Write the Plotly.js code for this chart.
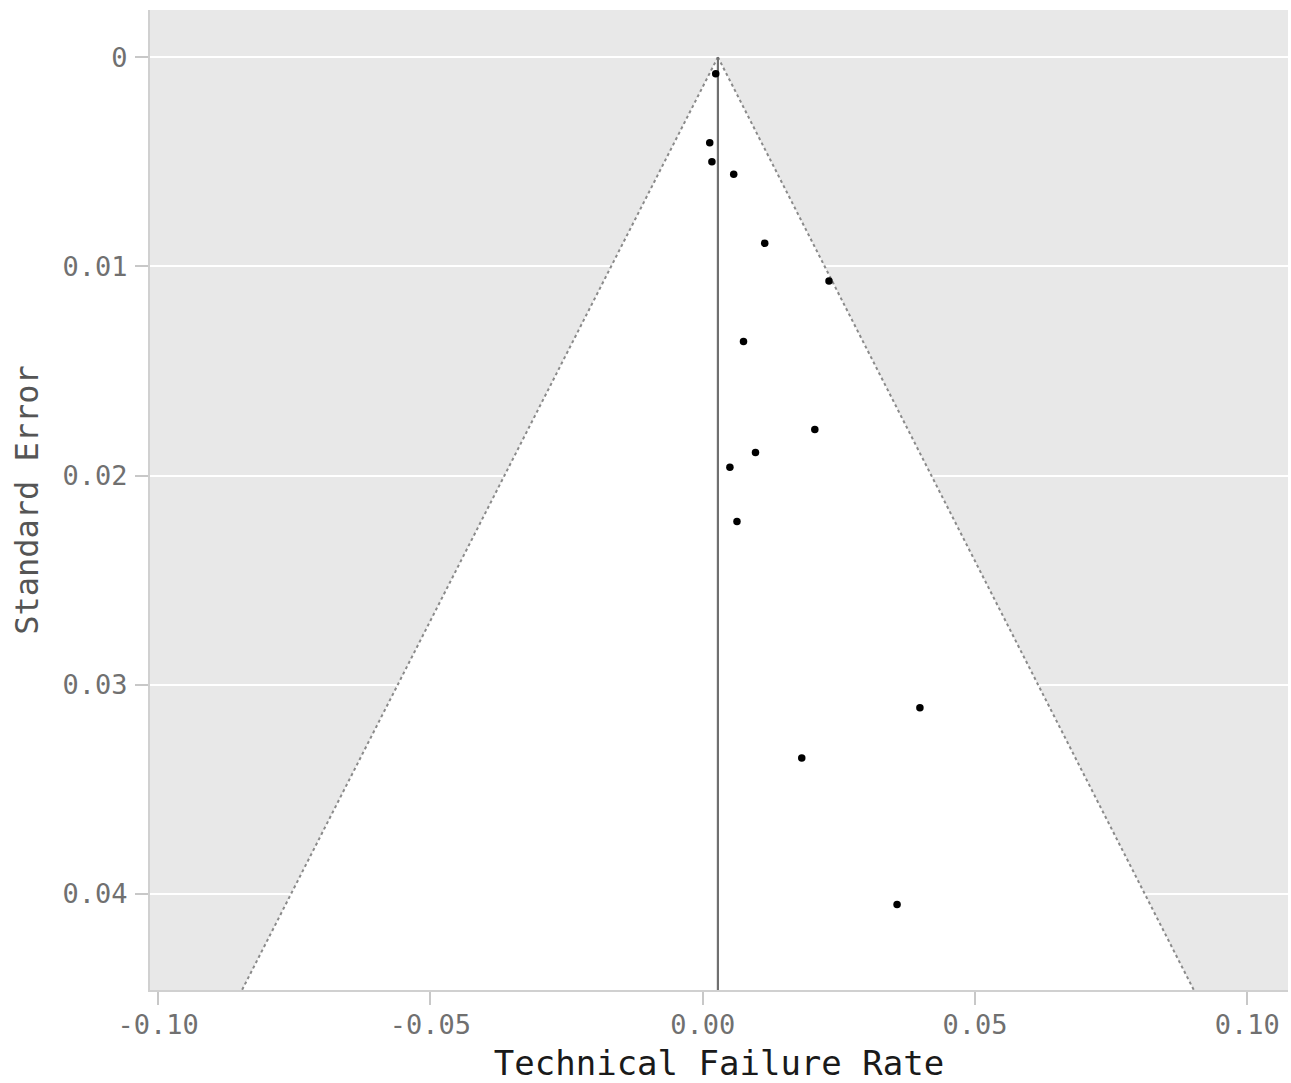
<!DOCTYPE html>
<html>
<head>
<meta charset="utf-8">
<script src="https://cdn.plot.ly/plotly-3.0.1.min.js"></script>
<style>html,body{margin:0;padding:0;background:#fff;}#chart{width:1291px;height:1083px;}</style>
</head>
<body>
<div id="chart"></div>
<script>
// Study-level data
const studyRate = [0.0024, 0.0013, 0.0017, 0.0057, 0.0114, 0.0232, 0.0075, 0.0206, 0.0097, 0.0050, 0.0063, 0.0399, 0.0182, 0.0357];
const studySE   = [0.0008, 0.0041, 0.0050, 0.0056, 0.0089, 0.0107, 0.0136, 0.0178, 0.0189, 0.0196, 0.0222, 0.0311, 0.0335, 0.0405];
// Pooled estimate and funnel limits
const pooledRate = 0.0028;
const zCrit = 1.96;
const funnelSE = [0, 0.05];
const xTickVals = [-0.10, -0.05, 0.00, 0.05, 0.10];
const xTickText = ['-0.10', '-0.05', '0.00', '0.05', '0.10'];
const yTickVals = [0, 0.01, 0.02, 0.03, 0.04];
const yTickText = ['0', '0.01', '0.02', '0.03', '0.04'];

const seMax = funnelSE[1];
const leftX = pooledRate - zCrit * seMax;
const rightX = pooledRate + zCrit * seMax;

const mono = 'DejaVu Sans Mono, monospace';

const traces = [
  { // white funnel region
    x: [pooledRate, leftX, rightX, pooledRate],
    y: [funnelSE[0], seMax, seMax, funnelSE[0]],
    type: 'scatter', mode: 'lines', fill: 'toself', fillcolor: '#ffffff',
    line: {width: 0, color: 'rgba(0,0,0,0)'}, hoverinfo: 'skip', showlegend: false
  },
  { // left limit
    x: [pooledRate, leftX], y: [funnelSE[0], seMax],
    type: 'scatter', mode: 'lines', line: {color: '#8a8a8a', width: 2, dash: 'dot'}, showlegend: false
  },
  { // right limit
    x: [pooledRate, rightX], y: [funnelSE[0], seMax],
    type: 'scatter', mode: 'lines', line: {color: '#8a8a8a', width: 2, dash: 'dot'}, showlegend: false
  },
  { // pooled line
    x: [pooledRate, pooledRate], y: [funnelSE[0], seMax],
    type: 'scatter', mode: 'lines', line: {color: '#707070', width: 2.2}, showlegend: false
  },
  { // studies
    x: studyRate, y: studySE, type: 'scatter', mode: 'markers',
    marker: {color: '#000000', size: 7.5}, showlegend: false
  }
];

const layout = {
  width: 1291, height: 1083,
  margin: {l: 150, r: 3, t: 10, b: 93, pad: 0},
  paper_bgcolor: '#ffffff', plot_bgcolor: '#e8e8e8',
  font: {family: mono, color: '#6e6e6e'},
  showlegend: false,
  xaxis: {
    range: [-0.1015, 0.1075],
    tickvals: xTickVals, ticktext: xTickText,
    showgrid: false, zeroline: false,
    showline: true, linecolor: '#d0d0d0', linewidth: 2,
    ticks: 'outside', ticklen: 13, tickwidth: 2, tickcolor: '#c8c8c8',
    ticklabelstandoff: -3,
    tickfont: {family: mono, size: 27, color: '#707070'},
    title: {text: 'Technical Failure Rate', font: {family: mono, size: 34, color: '#1a1a1a'}, standoff: 13}
  },
  yaxis: {
    range: [0.04459, -0.00225],
    tickvals: yTickVals, ticktext: yTickText,
    showgrid: true, gridcolor: '#ffffff', gridwidth: 2,
    zeroline: false,
    showline: true, linecolor: '#d0d0d0', linewidth: 2,
    ticks: 'outside', ticklen: 13, tickwidth: 2, tickcolor: '#c8c8c8',
    ticklabelstandoff: 2,
    tickfont: {family: mono, size: 27, color: '#707070'},
    title: {text: 'Standard Error', font: {family: mono, size: 32, color: '#555555'}, standoff: 14}
  }
};

Plotly.newPlot('chart', traces, layout, {displayModeBar: false, staticPlot: true});
</script>
</body>
</html>
